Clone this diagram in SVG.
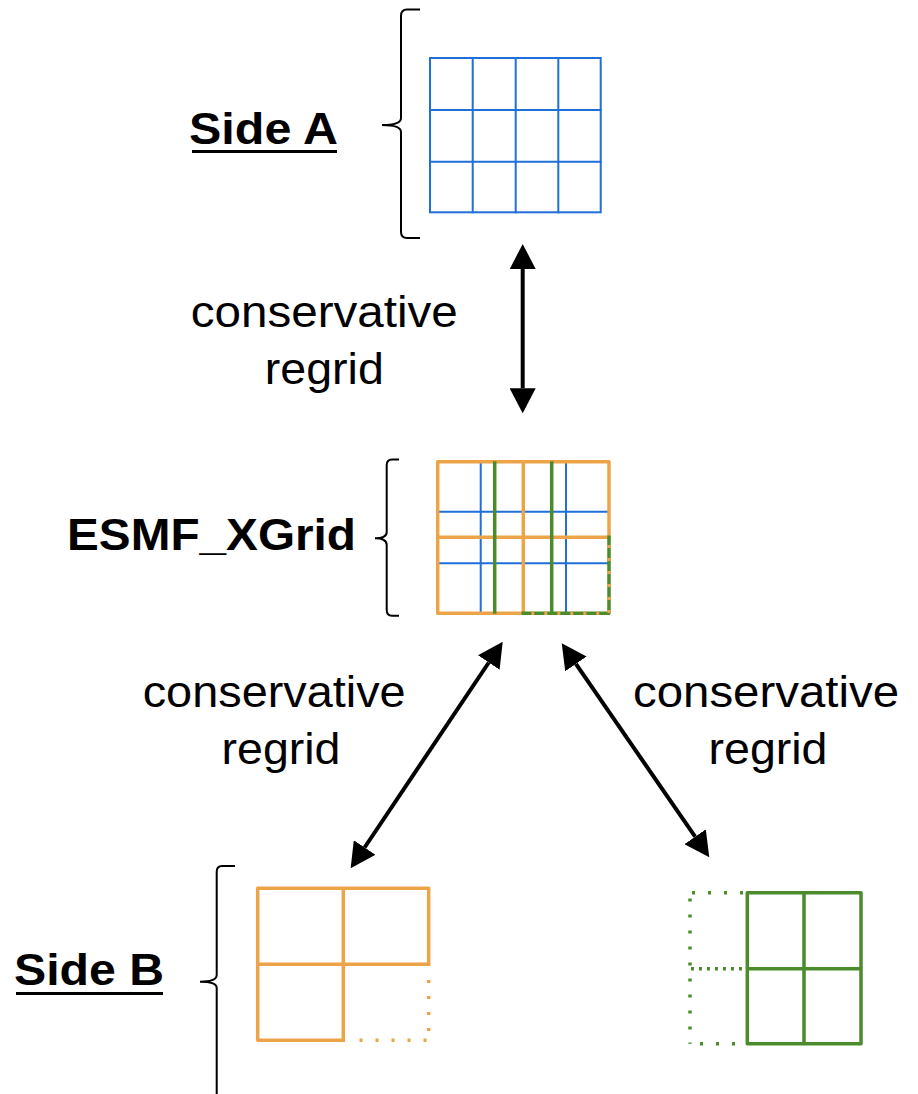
<svg xmlns="http://www.w3.org/2000/svg" width="918" height="1094" viewBox="0 0 918 1094">
  <defs>
    <marker id="head" viewBox="0 0 25 26" markerWidth="25" markerHeight="26" refX="0" refY="13" orient="auto-start-reverse" markerUnits="userSpaceOnUse">
      <path d="M0,0 L25,13 L0,26 z" fill="#000"/>
    </marker>
    <style>
      .lbl { font-family: "Liberation Sans", Arial, sans-serif; font-size: 44px; fill: #000; }
      .bold { font-weight: bold; }
      .brace { fill: none; stroke: #000; stroke-width: 2; }
      .blue { fill: none; stroke: #1F6FD8; stroke-width: 2; stroke-linecap: square; }
      .orange { fill: none; stroke: #EDA449; stroke-width: 3.5; stroke-linecap: square; stroke-linejoin: round; }
      .green { fill: none; stroke: #4B8B2B; stroke-width: 3.5; stroke-linecap: square; stroke-linejoin: round; }
      .dotO { fill: none; stroke: #EDA449; stroke-width: 3.5; stroke-dasharray: 3 13; }
      .dotG { fill: none; stroke: #4B8B2B; stroke-width: 3.5; stroke-dasharray: 3 13; }
      .dotG2 { fill: none; stroke: #4B8B2B; stroke-width: 3.5; stroke-dasharray: 3 5; }
      .link { fill: none; stroke: #000; stroke-width: 4; marker-start: url(#head); marker-end: url(#head); }
      .uline { stroke: #000; stroke-width: 3; }
    </style>
  </defs>
  <rect width="918" height="1094" fill="#fff"/>

  <!-- Side A: 4x3 source grid -->
  <g id="side-a">
    <text class="lbl bold" x="189" y="144" textLength="149" lengthAdjust="spacingAndGlyphs">Side A</text>
    <line class="uline" x1="192" y1="151.5" x2="337" y2="151.5"/>
    <path class="brace" d="M420,9.5 L407,9.5 Q401,9.5 401,16 L401,118 Q401,125 382,125 Q401,125 401,132 L401,232 Q401,238 407,238 L420,238"/>
    <g class="blue">
      <rect x="430" y="58" width="170.7" height="154.3"/>
      <line x1="472.7" y1="58" x2="472.7" y2="212.3"/>
      <line x1="515.7" y1="58" x2="515.7" y2="212.3"/>
      <line x1="558.3" y1="58" x2="558.3" y2="212.3"/>
      <line x1="430" y1="110" x2="600.7" y2="110"/>
      <line x1="430" y1="161.7" x2="600.7" y2="161.7"/>
    </g>
  </g>

  <!-- Exchange grid: overlay of both sides -->
  <g id="xgrid">
    <text class="lbl bold" x="67" y="550" textLength="289" lengthAdjust="spacingAndGlyphs">ESMF_XGrid</text>
    <path class="brace" d="M399,459.5 L392,459.5 Q386.7,459.5 386.7,465 L386.7,532 Q386.7,538.3 375,538.3 Q386.7,538.3 386.7,545 L386.7,610 Q386.7,615.7 392,615.7 L399,615.7"/>
    <g class="blue">
      <line x1="480.7" y1="461.7" x2="480.7" y2="613.3"/>
      <line x1="566" y1="461.7" x2="566" y2="613.3"/>
      <line x1="437.7" y1="511.7" x2="609" y2="511.7"/>
      <line x1="437.7" y1="563.3" x2="609" y2="563.3"/>
    </g>
    <path class="orange" d="M523.3,613.3 L437.7,613.3 L437.7,461.7 L609,461.7 L609,537.3 M437.7,537.3 L609,537.3 M523.3,461.7 L523.3,613.3"/>
    <g class="green">
      <line x1="494.7" y1="463" x2="494.7" y2="612"/>
      <line x1="551.7" y1="463" x2="551.7" y2="612"/>
      <path d="M609,537.3 L609,613.3 L523.3,613.3"/>
    </g>
    <path fill="none" stroke="#EDA449" stroke-width="3.5" stroke-dasharray="3 10" d="M609,545 L609,613.3 L530,613.3"/>
  </g>

  <!-- Side B: partial orange grid -->
  <g id="side-b-orange">
    <text class="lbl bold" x="14" y="985" textLength="150" lengthAdjust="spacingAndGlyphs">Side B</text>
    <line class="uline" x1="16" y1="993.5" x2="163" y2="993.5"/>
    <path class="brace" d="M235,866 L222,866 Q216.7,866 216.7,872 L216.7,975 Q216.7,981.7 200,981.7 Q216.7,981.7 216.7,988 L216.7,1094"/>
    <path class="orange" d="M343.3,1040.3 L257.7,1040.3 L257.7,888.3 L428.7,888.3 L428.7,964.3 M257.7,964.3 L428.7,964.3 M343.3,888.3 L343.3,1040.3"/>
    <path class="dotO" d="M428.7,980 L428.7,1040.3"/>
    <path class="dotO" d="M359.5,1040.3 L428.7,1040.3"/>
  </g>

  <!-- Side B: partial green grid -->
  <g id="side-b-green">
    <path class="green" d="M747.3,892.7 L861,892.7 L861,1043.7 L747.3,1043.7 Z M804,892.7 L804,1043.7 M747.3,968.7 L861,968.7"/>
    <path class="dotG" d="M692,892.7 L747,892.7"/>
    <path class="dotG" d="M690,898.5 L690,1043.7"/>
    <path class="dotG2" d="M691,968.7 L747,968.7"/>
    <path class="dotG" d="M700,1043.7 L747,1043.7"/>
  </g>

  <!-- Regrid connectors and their labels -->
  <g id="connectors">
    <line class="link" x1="522.7" y1="269" x2="522.7" y2="388.3"/>
    <line class="link" x1="488.8" y1="662.5" x2="364.6" y2="847.5"/>
    <line class="link" x1="575.9" y1="663.9" x2="695.1" y2="836.7"/>
    <text class="lbl" x="324.3" y="327" text-anchor="middle" textLength="267" lengthAdjust="spacingAndGlyphs">conservative</text>
    <text class="lbl" x="324.3" y="384" text-anchor="middle" textLength="119" lengthAdjust="spacingAndGlyphs">regrid</text>
    <text class="lbl" x="274.2" y="707" text-anchor="middle" textLength="263" lengthAdjust="spacingAndGlyphs">conservative</text>
    <text class="lbl" x="281" y="764" text-anchor="middle" textLength="119" lengthAdjust="spacingAndGlyphs">regrid</text>
    <text class="lbl" x="766" y="707" text-anchor="middle" textLength="266" lengthAdjust="spacingAndGlyphs">conservative</text>
    <text class="lbl" x="768" y="764" text-anchor="middle" textLength="119" lengthAdjust="spacingAndGlyphs">regrid</text>
  </g>
</svg>
